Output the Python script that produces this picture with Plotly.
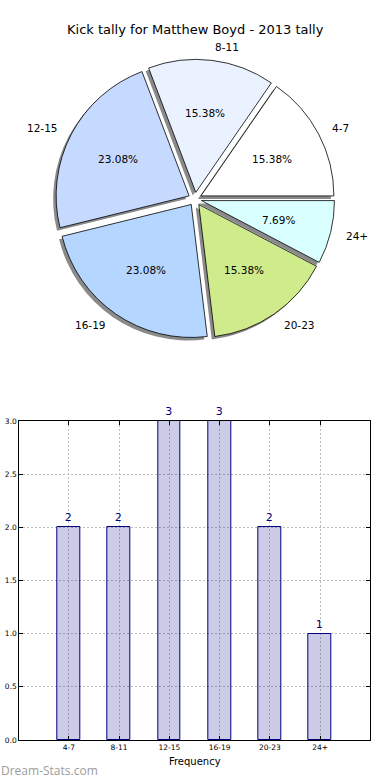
import math
import plotly.graph_objects as go

# ---- data ----
categories = ["4-7", "8-11", "12-15", "16-19", "20-23", "24+"]
kick_counts = [2, 2, 3, 3, 2, 1]
pie_colors = ["#FFFFFF", "#EAF2FF", "#C6D9FF", "#B5D6FF", "#D0EB8C", "#D9FFFF"]
y_ticks = [0.0, 0.5, 1.0, 1.5, 2.0, 2.5, 3.0]
title_text = "Kick tally for Matthew Boyd - 2013 tally"

# ---- layout constants ----
W, H = 390, 780
FONT = "DejaVu Sans"
PULL = 0.05
R = 133          # pie radius in px
CX, CY = 195, 199  # pie centre in px (from top)
SH = 3           # shadow offset px

half = R * (1 + PULL)
total = sum(kick_counts)
# plotly's counterclockwise pies end the first slice at `rotation`,
# so shift so that the first slice starts at 3 o'clock (like matplotlib)
ROT = 90 - 360 * kick_counts[0] / total


def dom(cx, cy):
    return dict(x=[(cx - half) / W, (cx + half) / W],
                y=[(H - cy - half) / H, (H - cy + half) / H])


fig = go.Figure()

# shadow pie
fig.add_trace(go.Pie(
    labels=categories, values=kick_counts, sort=False,
    direction="counterclockwise", rotation=ROT, pull=PULL,
    marker=dict(colors=["#8a8a8a"] * len(categories), line=dict(width=0)),
    textinfo="none", hoverinfo="skip", showlegend=False,
    domain=dom(CX - SH, CY + SH),
))

# main pie
fig.add_trace(go.Pie(
    labels=categories, values=kick_counts, sort=False,
    direction="counterclockwise", rotation=ROT, pull=PULL,
    marker=dict(colors=pie_colors, line=dict(color="black", width=0.8)),
    textinfo="none", showlegend=False,
    domain=dom(CX, CY),
))

# pie labels (matplotlib-like placement computed from the data)
annotations = []
cum = 0
for lab, v in zip(categories, kick_counts):
    frac = v / total
    th = 2 * math.pi * (cum + frac / 2)
    cum += frac
    pcx = CX + PULL * R * math.cos(th)
    pcy = CY - PULL * R * math.sin(th)
    lx = pcx + 1.1 * R * math.cos(th)
    ly = pcy - 1.1 * R * math.sin(th)
    annotations.append(dict(
        x=lx / W, y=1 - ly / H, xref="paper", yref="paper",
        text=lab, showarrow=False,
        xanchor="left" if lx > CX else "right", yanchor="middle",
        font=dict(family=FONT, size=10.5, color="black")))
    px = pcx + 0.6 * R * math.cos(th)
    py = pcy - 0.6 * R * math.sin(th)
    annotations.append(dict(
        x=px / W, y=1 - py / H, xref="paper", yref="paper",
        text=f"{frac * 100:.2f}%", showarrow=False,
        xanchor="center", yanchor="middle",
        font=dict(family=FONT, size=10.5, color="black")))

# title
annotations.append(dict(
    x=195 / W, y=1 - 30 / H, xref="paper", yref="paper", text=title_text,
    showarrow=False, xanchor="center", yanchor="middle",
    font=dict(family=FONT, size=13, color="black")))

# watermark
annotations.append(dict(
    x=-1 / W, y=1 - 770 / H, xref="paper", yref="paper", text="Dream-Stats.com",
    showarrow=False, xanchor="left", yanchor="middle",
    font=dict(family="Open Sans", size=12, color="#9c9c9c")))

# bar chart
fig.add_trace(go.Bar(
    x=list(range(len(categories))), y=kick_counts, width=0.45,
    marker=dict(color="rgba(0,0,128,0.2)", line=dict(color="#000080", width=1)),
    text=[str(v) for v in kick_counts], textposition="outside",
    textfont=dict(family=FONT, size=11, color="#000080"),
    cliponaxis=False, showlegend=False,
))

GRID = dict(showgrid=True, gridcolor="#bdbdbd", griddash="2px,2px", gridwidth=1)

fig.update_layout(
    width=W, height=H,
    margin=dict(l=0, r=0, t=0, b=0, pad=0, autoexpand=False),
    paper_bgcolor="white", plot_bgcolor="white",
    annotations=annotations,
    xaxis=dict(
        domain=[19.3 / W, 370.3 / W], range=[-0.985, 6.0],
        tickvals=list(range(len(categories))), ticktext=categories,
        ticks="inside", ticklen=4, tickcolor="black", mirror="ticks",
        showline=True, linecolor="black", linewidth=1,
        zeroline=False, tickfont=dict(family=FONT, size=7.5, color="black"),
        title=dict(text="Frequency", font=dict(family=FONT, size=10, color="black"), standoff=6),
        fixedrange=True, automargin=False, **GRID,
    ),
    yaxis=dict(
        domain=[40 / H, 359 / H], range=[0, 3],
        tickvals=y_ticks, tickformat=".1f",
        ticks="inside", ticklen=4, tickcolor="black", mirror="ticks",
        showline=True, linecolor="black", linewidth=1,
        zeroline=False, tickfont=dict(family=FONT, size=7.5, color="black"),
        fixedrange=True, automargin=False, **GRID,
    ),
    bargap=0,
)

fig.write_html("out.html", config={"displayModeBar": False},
               post_script="document.body.style.margin='0';")
